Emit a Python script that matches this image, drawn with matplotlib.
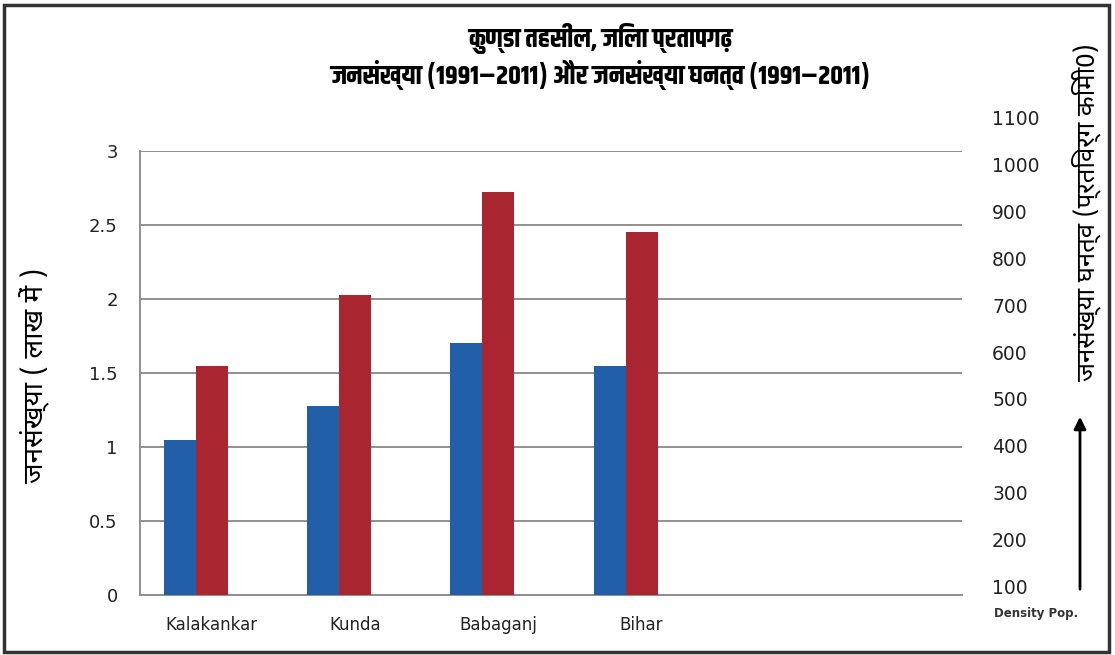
import matplotlib
matplotlib.use("Agg")
import matplotlib.pyplot as plt
from matplotlib.patches import Rectangle
import numpy as np

# ---- data ----
categories = ["Kalakankar", "Kunda", "Babaganj", "Bihar"]
pop_1991 = [1.05, 1.28, 1.70, 1.55]      # blue bars (lakh)
pop_2011 = [1.55, 2.03, 2.72, 2.45]      # red bars (lakh)
left_ticks = [0, 0.5, 1, 1.5, 2, 2.5, 3]
left_ticklabels = ["0", "0.5", "1", "1.5", "2", "2.5", "3"]
right_ticks = [100, 200, 300, 400, 500, 600, 700, 800, 900, 1000, 1100]
title_line1 = "कुण्डा तहसील, जिला प्रतापगढ़"
title_line2 = "जनसंख्या (1991–2011) और जनसंख्या घनत्व (1991–2011)"
left_label = "जनसंख्या ( लाख में )"
right_label = "जनसंख्या घनत्व (प्रतिवर्ग किमी0)"
density_note = "Density Pop."

TITLE_FONT = ["Khand", "Noto Sans Devanagari", "DejaVu Sans"]
LABEL_FONT = ["Noto Sans Devanagari", "Lohit Devanagari", "DejaVu Sans"]

W, H = 1115, 655
fig = plt.figure(figsize=(W / 100, H / 100), dpi=100)

def px(x0, y0, x1, y1):
    return [x0 / W, 1 - y1 / H, (x1 - x0) / W, (y1 - y0) / H]

ax = fig.add_axes(px(140, 151, 962, 595))
x = np.arange(len(categories))
w = 0.223
blue = "#2160A8"
red = "#A9252F"
ax.bar(x - w, pop_1991, width=w, color=blue, align="center", zorder=3)
ax.bar(x, pop_2011, width=w, color=red, align="center", zorder=3)
ax.set_xlim(-0.5, (962 - 140) / 143.3 - 0.5)
ax.set_ylim(0, 3)
ax.set_yticks(left_ticks)
ax.set_yticklabels(left_ticklabels)
ax.set_xticks(x)
ax.set_xticklabels(categories)
ax.grid(axis="y", color="#8f8f8f", linewidth=1.4, zorder=0)
for s in ["top", "right"]:
    ax.spines[s].set_visible(False)
for s in ["left", "bottom"]:
    ax.spines[s].set_color("#8f8f8f")
    ax.spines[s].set_linewidth(1.4)
ax.tick_params(axis="y", length=0, pad=16, labelsize=13, labelcolor="#222222")
ax.tick_params(axis="x", length=0, pad=15, labelsize=12, labelcolor="#222222")

ax2 = fig.add_axes(px(980, 118, 981, 586))
ax2.set_ylim(100, 1100)
ax2.set_yticks(right_ticks)
ax2.yaxis.tick_right()
ax2.set_xticks([])
for s in ax2.spines.values():
    s.set_visible(False)
ax2.patch.set_visible(False)
ax2.tick_params(axis="y", length=0, pad=8, labelsize=13.5, labelcolor="#222222")

fig.text(600 / W, 1 - 38 / H, title_line1, ha="center", va="center", fontsize=19.5,
         fontweight="bold", family=TITLE_FONT)
fig.text(600 / W, 1 - 75 / H, title_line2, ha="center", va="center", fontsize=19.5,
         fontweight="bold", family=TITLE_FONT)
fig.text(35 / W, 1 - 375 / H, left_label, rotation=90, ha="center", va="center",
         fontsize=20, family=LABEL_FONT)
fig.text(1086 / W, 1 - 212 / H, right_label, rotation=90, ha="center", va="center",
         fontsize=18.5, family=LABEL_FONT)
fig.text(1036 / W, 1 - 613 / H, density_note, ha="center", va="center", fontsize=8.5,
         fontweight="bold", color="#333333")

ax_over = fig.add_axes([0, 0, 1, 1], zorder=-1)
ax_over.set_xlim(0, W)
ax_over.set_ylim(H, 0)
ax_over.axis("off")
ax_over.annotate("", xy=(1080, 414), xytext=(1080, 592),
                 arrowprops=dict(arrowstyle="-|>", color="black", lw=2, mutation_scale=18))
ax_over.add_patch(Rectangle((4, 5), 1105, 647, fill=False, edgecolor="#333333", linewidth=2.5))

fig.savefig("out.png", dpi=100)
